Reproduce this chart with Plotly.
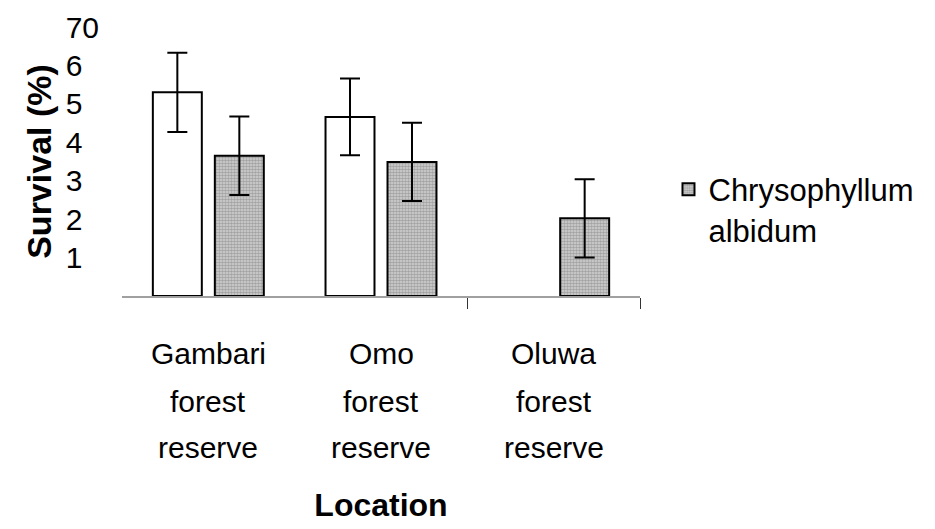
import plotly.graph_objects as go

categories = ["Gambari forest reserve", "Omo forest reserve", "Oluwa forest reserve"]
white_values = [53.0, 46.6, None]
white_errors = [10.3, 10.0, None]
grey_values = [36.5, 34.9, 20.2]
grey_errors = [10.2, 10.2, 10.2]
series_name = "Chrysophyllum<br>albidum"
y_tickvals = [70, 60, 50, 40, 30, 20, 10]
y_ticktext = ["70", "6\u2007", "5\u2007", "4\u2007", "3\u2007", "2\u2007", "1\u2007"]

FONT = "Liberation Sans, Arial, sans-serif"

fig = go.Figure()
fig.add_trace(go.Bar(
    x=categories, y=white_values, name="white", showlegend=False,
    marker=dict(color="white", line=dict(color="black", width=2)),
    error_y=dict(type="data", array=white_errors, color="black", thickness=2, width=10),
))
fig.add_trace(go.Bar(
    x=categories, y=grey_values, name=series_name,
    marker=dict(color="#a8a8a8", line=dict(color="black", width=2),
                pattern=dict(shape=".", size=3, solidity=0.6, fgcolor="#707070", bgcolor="#d4d4d4")),
    error_y=dict(type="data", array=grey_errors, color="black", thickness=2, width=10),
))

# plot area pixels: x 122..640, y 27..296
plot_top, plot_bottom = 27, 296
def py_to_paper(py):
    return (plot_bottom - py) / (plot_bottom - plot_top)

line_centers = [353, 401, 447]
annotations = []
for cat in categories:
    for i, word in enumerate(cat.split(" ")):
        annotations.append(dict(
            x=cat, xref="x", y=py_to_paper(line_centers[i]), yref="paper",
            text=word, showarrow=False, xanchor="center", yanchor="middle",
            font=dict(family=FONT, size=30, color="black"),
        ))

fig.update_layout(
    width=935, height=529,
    margin=dict(l=122, r=295, t=27, b=233),
    paper_bgcolor="white", plot_bgcolor="white",
    barmode="group", bargap=0.282, bargroupgap=0.21,
    font=dict(family=FONT, size=30, color="black"),
    legend=dict(x=1.055, xanchor="left", y=0.496, yanchor="top", valign="top",
                font=dict(family=FONT, size=31, color="black"), bgcolor="rgba(0,0,0,0)"),
    annotations=annotations,
    xaxis=dict(
        type="category", showline=True, linecolor="#a0a0a0", linewidth=2,
        showgrid=False, zeroline=False, showticklabels=False,
        tickvals=[1.5, 2.5], ticks="outside", ticklen=11, tickcolor="#333333", tickwidth=1,
        title=dict(text="<b>Location</b>", font=dict(family=FONT, size=32, color="black"), standoff=186),
        automargin=False,
    ),
    yaxis=dict(
        range=[0, 70], showline=False, showgrid=False, zeroline=False,
        tickvals=y_tickvals, ticktext=y_ticktext, ticks="",
        tickfont=dict(family=FONT, size=30, color="black"), ticklabelstandoff=22,
        title=dict(text="<b>Survival (%)</b>", font=dict(family=FONT, size=34, color="black"), standoff=3),
        automargin=False,
    ),
)

fig.write_html("out.html", config={"displayModeBar": False},
               post_script="document.body.style.margin='0px';")
